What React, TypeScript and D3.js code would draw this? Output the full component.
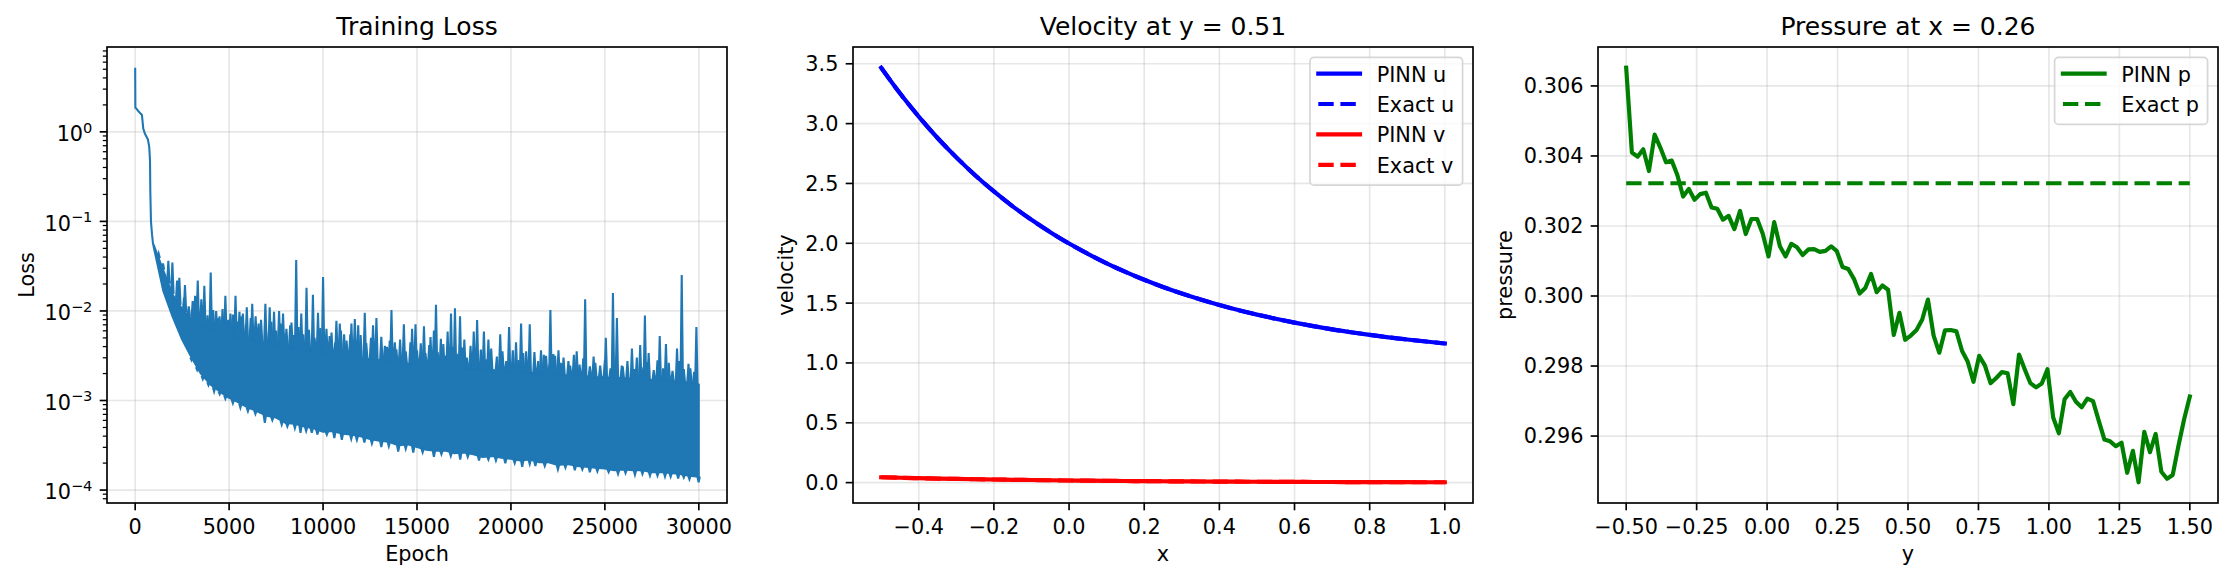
import React from 'react';
import * as d3 from 'd3';

const W = 2233;
const H = 581;
const FONT = 'DejaVu Sans, Verdana, sans-serif';
const FS = 20.8; // 10pt at 150 dpi
const TITLE_FS = 25;

// ---------- Training loss (values read on the log axis, stored as log10) ----------
const lossEarlyEpochs = [0, 10, 60, 150, 300, 360, 430, 520, 680, 750, 790, 805, 840, 895, 950];
const lossEarlyLog10 = [0.716, 0.27, 0.26, 0.236, 0.201, 0.188, 0.037, -0.022, -0.086, -0.174, -0.328, -0.658, -1.0, -1.143, -1.252];

// dense noisy band: lower edge and top of the solid body
const bandEpochs = [950, 1000, 1500, 2000, 2500, 3000, 3500, 4000, 4500, 5000,
  5500, 6000, 6500, 7000, 7500, 8000, 8500, 9000, 9500, 10000,
  10500, 11000, 11500, 12000, 12500, 13000, 13500, 14000, 14500, 15000,
  15500, 16000, 16500, 17000, 17500, 18000, 18500, 19000, 19500, 20000,
  20500, 21000, 21500, 22000, 22500, 23000, 23500, 24000, 24500, 25000,
  25500, 26000, 26500, 27000, 27500, 28000, 28500, 29000, 29500, 30000];
const bandLowLog10 = [-1.25, -1.3, -1.78, -2.07, -2.32, -2.52, -2.7, -2.82, -2.9, -2.97,
  -3.02, -3.08, -3.12, -3.17, -3.19, -3.25, -3.26, -3.29, -3.31, -3.35,
  -3.34, -3.37, -3.38, -3.4, -3.43, -3.45, -3.46, -3.5, -3.49, -3.52,
  -3.55, -3.56, -3.56, -3.59, -3.58, -3.6, -3.63, -3.62, -3.64, -3.65,
  -3.67, -3.66, -3.69, -3.69, -3.72, -3.71, -3.73, -3.74, -3.75, -3.76,
  -3.78, -3.77, -3.78, -3.78, -3.8, -3.8, -3.81, -3.82, -3.84, -3.85];
const bandHighLog10 = [-1.25, -1.27, -1.55, -1.82, -1.98, -2.09, -2.16, -2.2, -2.23, -2.27,
  -2.29, -2.32, -2.34, -2.36, -2.38, -2.4, -2.42, -2.44, -2.45, -2.47,
  -2.49, -2.5, -2.51, -2.53, -2.54, -2.55, -2.56, -2.58, -2.59, -2.6,
  -2.6, -2.61, -2.62, -2.63, -2.64, -2.64, -2.65, -2.66, -2.67, -2.68,
  -2.68, -2.69, -2.7, -2.7, -2.71, -2.72, -2.72, -2.73, -2.74, -2.74,
  -2.75, -2.75, -2.76, -2.76, -2.77, -2.78, -2.78, -2.79, -2.8, -2.82];

// tall spikes
const spikeEpochs = [1250, 1480, 1765, 1980, 2230, 2350, 2650, 3060, 3190, 3330, 3520, 3680, 4020, 4310, 4490,
  4800, 5070, 5340, 5550, 5730, 5940, 6230, 6410, 6570, 6930, 7160, 7390, 7660, 7870, 8050, 8320, 8570, 8840,
  9120, 9460, 9730, 10000, 10180, 10350, 10710, 10890, 11120, 11510, 11690, 11870, 12220, 12660, 12840, 13290,
  13640, 13820, 14300, 14740, 14920, 15370, 15720, 15900, 16010, 16270, 16630, 16810, 17020, 17290, 17520,
  18020, 18200, 18560, 18800, 19430, 19900, 20270, 20540, 20810, 21000, 21600, 21870, 22100, 22260, 22530,
  23060, 23500, 23950, 24490, 25050, 25430, 25640, 25900, 26440, 26880, 27130, 27330, 27920, 28250, 28840,
  29090, 29550, 29870];
const spikeLog10 = [-1.36, -1.47, -1.44, -1.46, -1.66, -1.63, -1.71, -1.89, -1.83, -1.66, -1.87, -1.72, -1.57,
  -2.0, -2.06, -1.83, -2.03, -1.83, -2.01, -2.03, -1.96, -1.92, -2.06, -2.14, -1.92, -1.96, -2.01, -2.0, -2.03,
  -2.2, -2.13, -1.43, -2.03, -1.74, -1.82, -2.02, -1.62, -2.2, -2.28, -2.11, -2.14, -2.26, -2.14, -2.09, -2.16,
  -2.02, -2.16, -2.08, -2.39, -1.99, -2.35, -2.15, -2.2, -2.15, -2.17, -2.29, -2.22, -1.93, -2.31, -2.23, -2.03,
  -1.97, -2.06, -2.32, -2.23, -2.1, -2.23, -2.32, -2.26, -2.18, -2.35, -2.14, -2.45, -2.15, -2.44, -2.5, -1.99,
  -2.48, -2.44, -2.56, -2.45, -1.87, -2.58, -2.3, -1.8, -2.08, -2.61, -2.42, -2.38, -2.05, -2.47, -2.28, -2.37,
  -2.42, -1.6, -2.64, -2.18];

// short spikes that make the ragged top of the band
const minorSpikeEpochs = [2600, 2850, 3100, 3400, 3650, 3850, 4150, 4400, 4650, 4950, 5200, 5450, 5650, 5900,
  6150, 6400, 6700, 6950, 7250, 7500, 7750, 8000, 8250, 8450, 8700, 8950, 9250, 9550, 9850, 10100, 10450,
  10650, 10950, 11250, 11450, 11750, 12000, 12300, 12550, 12800, 13100, 13400, 13550, 13900, 14100, 14400,
  14650, 15000, 15200, 15450, 15650, 16100, 16400, 16550, 16900, 17150, 17400, 17650, 17850, 18100, 18400,
  18700, 18950, 19250, 19550, 19750, 20100, 20400, 20650, 20950, 21250, 21450, 21750, 22050, 22350, 22650,
  22800, 23150, 23350, 23650, 23850, 24200, 24400, 24750, 25000, 25300, 25600, 25950, 26200, 26550, 26700,
  27050, 27250, 27600, 27800, 28100, 28400, 28600, 28950, 29200, 29450, 29750];
const minorSpikeLog10 = [-1.85, -1.95, -1.92, -2.02, -1.97, -2.05, -1.99, -2.08, -1.98, -2.1, -2.04, -2.12,
  -2.06, -2.15, -2.08, -2.18, -2.1, -2.2, -2.12, -2.22, -2.14, -2.25, -2.16, -2.27, -2.18, -2.26, -2.21,
  -2.3, -2.19, -2.31, -2.24, -2.35, -2.22, -2.33, -2.26, -2.38, -2.27, -2.36, -2.3, -2.41, -2.29, -2.4,
  -2.33, -2.43, -2.32, -2.45, -2.35, -2.44, -2.36, -2.47, -2.38, -2.46, -2.37, -2.5, -2.4, -2.48, -2.41,
  -2.52, -2.39, -2.5, -2.43, -2.54, -2.42, -2.51, -2.45, -2.56, -2.44, -2.55, -2.47, -2.58, -2.46, -2.56,
  -2.49, -2.6, -2.5, -2.58, -2.52, -2.61, -2.49, -2.6, -2.53, -2.62, -2.51, -2.61, -2.55, -2.64, -2.53,
  -2.62, -2.56, -2.65, -2.52, -2.63, -2.57, -2.66, -2.55, -2.64, -2.58, -2.67, -2.56, -2.65, -2.59, -2.68];

// downward dips below the band
const dipEpochs = [3000, 3300, 3600, 3900, 4200, 4500, 4800, 5200, 5600, 6000, 6400, 6900, 7300, 7800, 8100,
  8500, 8800, 9100, 9400, 9700, 10200, 10600, 11000, 11500, 11800, 12200, 12600, 13100, 13500, 14000, 14400,
  14800, 15300, 15900, 16300, 16800, 17300, 17700, 18300, 18800, 19200, 19700, 20200, 20600, 21000, 21300,
  21800, 22500, 22900, 23400, 23800, 24200, 24600, 25200, 25700, 26100, 26600, 27000, 27400, 27800, 28200,
  28500, 28900, 29200, 29500, 29990];
const dipLog10 = [-2.55, -2.66, -2.76, -2.83, -2.9, -2.93, -2.98, -3.03, -3.08, -3.12, -3.15, -3.25, -3.22,
  -3.27, -3.29, -3.31, -3.36, -3.34, -3.36, -3.38, -3.38, -3.42, -3.44, -3.43, -3.44, -3.47, -3.48, -3.52,
  -3.51, -3.57, -3.54, -3.58, -3.58, -3.63, -3.6, -3.62, -3.66, -3.63, -3.67, -3.66, -3.67, -3.7, -3.7, -3.74,
  -3.71, -3.73, -3.73, -3.77, -3.75, -3.78, -3.77, -3.8, -3.79, -3.8, -3.82, -3.81, -3.83, -3.82, -3.84, -3.84,
  -3.85, -3.85, -3.87, -3.86, -3.88, -3.913];

const lossXTicks = [0, 5000, 10000, 15000, 20000, 25000, 30000];
const lossYTicks = [1e-4, 1e-3, 1e-2, 1e-1, 1];
const lossYExponents = ['\u22124', '\u22123', '\u22122', '\u22121', '0'];

// ---------- Velocity ----------
const velX = [-0.5, -0.45, -0.4, -0.35, -0.3, -0.25, -0.2, -0.15, -0.1, -0.05, 0.0, 0.05, 0.1, 0.15, 0.2, 0.25,
  0.3, 0.35, 0.4, 0.45, 0.5, 0.55, 0.6, 0.65, 0.7, 0.75, 0.8, 0.85, 0.9, 0.95, 1.0];
const uPinn = [3.467, 3.253, 3.059, 2.88, 2.718, 2.569, 2.433, 2.309, 2.196, 2.093, 1.998, 1.912, 1.833, 1.761,
  1.695, 1.635, 1.58, 1.53, 1.484, 1.442, 1.404, 1.369, 1.337, 1.308, 1.281, 1.257, 1.235, 1.214, 1.196, 1.179, 1.163];
const uExact = [3.467, 3.253, 3.059, 2.88, 2.718, 2.569, 2.433, 2.309, 2.196, 2.093, 1.998, 1.912, 1.833, 1.761,
  1.695, 1.635, 1.58, 1.53, 1.484, 1.442, 1.404, 1.369, 1.337, 1.308, 1.281, 1.257, 1.235, 1.214, 1.196, 1.179, 1.163];
const vPinn = [0.0447, 0.0409, 0.0373, 0.0341, 0.0311, 0.0285, 0.026, 0.0237, 0.0217, 0.0198, 0.0181, 0.0165,
  0.0151, 0.0138, 0.0126, 0.0115, 0.0105, 0.0096, 0.0088, 0.008, 0.0073, 0.0067, 0.0061, 0.0056, 0.0051, 0.0047,
  0.0043, 0.0039, 0.0036, 0.0032, 0.003];
const vExact = [0.0447, 0.0409, 0.0373, 0.0341, 0.0311, 0.0285, 0.026, 0.0237, 0.0217, 0.0198, 0.0181, 0.0165,
  0.0151, 0.0138, 0.0126, 0.0115, 0.0105, 0.0096, 0.0088, 0.008, 0.0073, 0.0067, 0.0061, 0.0056, 0.0051, 0.0047,
  0.0043, 0.0039, 0.0036, 0.0032, 0.003];
const velXTicks = [-0.4, -0.2, 0.0, 0.2, 0.4, 0.6, 0.8, 1.0];
const velYTicks = [0, 0.5, 1.0, 1.5, 2.0, 2.5, 3.0, 3.5];

// ---------- Pressure ----------
const pressurePinn = [
  0.30652, 0.3041, 0.30398, 0.30419, 0.30357, 0.30461, 0.30424, 0.30382, 0.30387, 0.30345,
  0.30284, 0.30306, 0.30275, 0.30291, 0.30295, 0.30253, 0.30249, 0.30218, 0.30229, 0.30191,
  0.30243, 0.30177, 0.3022, 0.3022, 0.30177, 0.30113, 0.30211, 0.30142, 0.30113, 0.30149,
  0.30139, 0.30117, 0.30133, 0.30134, 0.30126, 0.30129, 0.30142, 0.30128, 0.30083, 0.30077,
  0.30049, 0.30007, 0.30023, 0.30063, 0.30011, 0.3003, 0.30018, 0.29889, 0.29952, 0.29875,
  0.29887, 0.29903, 0.29933, 0.2999, 0.29887, 0.29838, 0.29902, 0.29903, 0.29899, 0.29843,
  0.29812, 0.29755, 0.29829, 0.29802, 0.29751, 0.29766, 0.29783, 0.29779, 0.29691, 0.29833,
  0.29791, 0.29751, 0.29739, 0.2975, 0.29791, 0.29653, 0.29608, 0.29705, 0.29726, 0.29698,
  0.29682, 0.29707, 0.297, 0.29644, 0.2959, 0.29585, 0.29571, 0.29581, 0.29495, 0.29558,
  0.29468, 0.29612, 0.29554, 0.29606, 0.29498, 0.29478, 0.29489, 0.29572, 0.29648, 0.29713,
];
const pressureExact = 0.30322;
const presXRange = [-0.5, 1.5];
const presXTicks = [-0.5, -0.25, 0, 0.25, 0.5, 0.75, 1.0, 1.25, 1.5];
const presYTicks = [0.296, 0.298, 0.3, 0.302, 0.304, 0.306];

// ---------- layout ----------
const TOP = 47;
const AH = 456;
const AW = 620;
const LEFTS = [107, 853, 1598];
const TICK = 7.3;
const LW = 1.67;
const GRID = '#b0b0b0';

const pad5 = (lo: number, hi: number) => {
  const m = (hi - lo) * 0.05;
  return [lo - m, hi + m];
};

type AxesProps = {
  left: number;
  title: string;
  xLabel: string;
  yLabel: string;
  yLabelX: number;
  x: any;
  y: any;
  xTicks: number[];
  xFmt: (v: number) => string;
  yTicks: number[];
  yLabelNode: (v: number, i: number, yy: number) => React.ReactNode;
  yMinor?: number[];
  id: string;
  children?: React.ReactNode;
  legend?: React.ReactNode;
};

function Axes(p: AxesProps) {
  const right = p.left + AW;
  const bottom = TOP + AH;
  return (
    <g>
      <defs>
        <clipPath id={p.id}>
          <rect x={p.left} y={TOP} width={AW} height={AH} />
        </clipPath>
      </defs>
      <g stroke={GRID} strokeOpacity={0.3} strokeWidth={LW}>
        {p.xTicks.map((t) => (
          <line key={'gx' + t} x1={p.x(t)} x2={p.x(t)} y1={TOP} y2={bottom} />
        ))}
        {p.yTicks.map((t) => (
          <line key={'gy' + t} x1={p.left} x2={right} y1={p.y(t)} y2={p.y(t)} />
        ))}
      </g>
      <g clipPath={`url(#${p.id})`}>{p.children}</g>
      <rect x={p.left} y={TOP} width={AW} height={AH} fill="none" stroke="#000" strokeWidth={LW} />
      <g stroke="#000" strokeWidth={LW}>
        {p.xTicks.map((t) => (
          <line key={'tx' + t} x1={p.x(t)} x2={p.x(t)} y1={bottom} y2={bottom + TICK} />
        ))}
        {p.yTicks.map((t) => (
          <line key={'ty' + t} x1={p.left - TICK} x2={p.left} y1={p.y(t)} y2={p.y(t)} />
        ))}
      </g>
      {p.yMinor && (
        <g stroke="#000" strokeWidth={1.25}>
          {p.yMinor.map((t, i) => (
            <line key={'tm' + i} x1={p.left - 4.2} x2={p.left} y1={p.y(t)} y2={p.y(t)} />
          ))}
        </g>
      )}
      <g fontFamily={FONT} fontSize={FS} fill="#000">
        {p.xTicks.map((t) => (
          <text key={'lx' + t} x={p.x(t)} y={533.5} textAnchor="middle">
            {p.xFmt(t)}
          </text>
        ))}
        {p.yTicks.map((t, i) => (
          <React.Fragment key={'ly' + t}>{p.yLabelNode(t, i, p.y(t))}</React.Fragment>
        ))}
        <text x={p.left + AW / 2} y={561} textAnchor="middle">
          {p.xLabel}
        </text>
        <text transform={`translate(${p.yLabelX},${TOP + AH / 2}) rotate(-90)`} textAnchor="middle">
          {p.yLabel}
        </text>
        <text x={p.left + AW / 2} y={34.5} textAnchor="middle" fontSize={TITLE_FS}>
          {p.title}
        </text>
      </g>
      {p.legend}
    </g>
  );
}

type LegendItem = { label: string; color: string; dashed: boolean };

function Legend({ right, items, textW }: { right: number; items: LegendItem[]; textW: number }) {
  const pad = 8.3;
  const hl = 41.7;
  const htp = 16.7;
  const rowH = 20;
  const sp = 10.4;
  const w = pad * 2 + hl + htp + textW;
  const h = pad * 2 + items.length * rowH + (items.length - 1) * sp;
  const left = right - 10.4 - w;
  const top = TOP + 10.4;
  return (
    <g>
      <rect x={left} y={top} width={w} height={h} rx={4} fill="#fff" fillOpacity={0.8} stroke="#cccccc" strokeOpacity={0.8} strokeWidth={LW} />
      {items.map((it, i) => {
        const cy = top + 16.2 + i * (rowH + sp);
        return (
          <g key={it.label}>
            <line
              x1={left + pad}
              x2={left + pad + hl}
              y1={cy}
              y2={cy}
              stroke={it.color}
              strokeWidth={4.17}
              strokeDasharray={it.dashed ? '15.4 6.7' : undefined}
              strokeLinecap={it.dashed ? 'butt' : 'square'}
            />
            <text x={left + pad + hl + htp} y={cy + 8} fontFamily={FONT} fontSize={FS} fill="#000">
              {it.label}
            </text>
          </g>
        );
      })}
    </g>
  );
}

const plainY = (fmt: (v: number) => string, left: number) => (v: number, _i: number, yy: number) => (
  <text x={left - 14.6} y={yy + 7.4} textAnchor="end">
    {fmt(v)}
  </text>
);

function LossPanel() {
  const left = LEFTS[0];
  const allLogs = [...lossEarlyLog10, ...bandLowLog10, ...bandHighLog10, ...spikeLog10, ...minorSpikeLog10, ...dipLog10];
  const [l0, l1] = pad5(d3.min(allLogs) as number, d3.max(allLogs) as number);
  const y = d3.scaleLog().domain([10 ** l0, 10 ** l1]).range([TOP + AH, TOP]);
  const ly = (lg: number) => y(10 ** lg);
  const x = d3.scaleLinear().domain(pad5(0, 30000)).range([left, left + AW]);
  const minor = y.ticks().filter((t) => {
    const e = Math.log10(t);
    return Math.abs(e - Math.round(e)) > 1e-6;
  });
  const highAt = d3.scaleLinear().domain(bandEpochs).range(bandHighLog10);
  const lowAt = d3.scaleLinear().domain(bandEpochs).range(bandLowLog10);
  const color = '#1f77b4';

  const early = d3
    .line<number>()
    .x((d) => x(d))
    .y((_d, i) => ly(lossEarlyLog10[i]))(lossEarlyEpochs) as string;
  const band = d3
    .area<number>()
    .x((d) => x(d))
    .y0((_d, i) => ly(bandLowLog10[i]))
    .y1((_d, i) => ly(bandHighLog10[i]))(bandEpochs) as string;
  const spikePath = (eps: number[], vals: number[], baseAt: (e: number) => number) =>
    eps
      .map((e, i) => {
        const xx = x(e);
        const b = ly(baseAt(e));
        return `M${xx - 1.2},${b}L${xx},${ly(vals[i])}L${xx + 1.2},${b}`;
      })
      .join('');

  const yLabelNode = (_v: number, i: number, yy: number) => (
    <text x={left - 14.6} y={yy + 9.2} textAnchor="end">
      10
      <tspan fontSize={14.6} dy={-8.5}>
        {lossYExponents[i]}
      </tspan>
    </text>
  );

  return (
    <Axes
      id="clip-loss"
      left={left}
      title="Training Loss"
      xLabel="Epoch"
      yLabel="Loss"
      yLabelX={33.5}
      x={x}
      y={y}
      xTicks={lossXTicks}
      xFmt={d3.format('d')}
      yTicks={lossYTicks}
      yLabelNode={yLabelNode}
      yMinor={minor}
    >
      <path d={band} fill={color} stroke={color} strokeWidth={2} strokeLinejoin="round" />
      <path d={spikePath(minorSpikeEpochs, minorSpikeLog10, highAt)} fill={color} stroke={color} strokeWidth={2.08} />
      <path d={spikePath(spikeEpochs, spikeLog10, highAt)} fill={color} stroke={color} strokeWidth={2.08} />
      <path d={spikePath(dipEpochs, dipLog10, lowAt)} fill={color} stroke={color} strokeWidth={2.08} />
      <path d={early} fill="none" stroke={color} strokeWidth={2.08} strokeLinejoin="round" />
    </Axes>
  );
}

function VelocityPanel() {
  const left = LEFTS[1];
  const all = [...uPinn, ...uExact, ...vPinn, ...vExact];
  const x = d3.scaleLinear().domain(pad5(-0.5, 1.0)).range([left, left + AW]);
  const y = d3
    .scaleLinear()
    .domain(pad5(d3.min(all) as number, d3.max(all) as number))
    .range([TOP + AH, TOP]);
  const mk = (vals: number[]) =>
    d3
      .line<number>()
      .x((d) => x(d))
      .y((_d, i) => y(vals[i]))
      .curve(d3.curveMonotoneX)(velX) as string;
  const fmt = d3.format('.1f');
  return (
    <Axes
      id="clip-vel"
      left={left}
      title="Velocity at y = 0.51"
      xLabel="x"
      yLabel="velocity"
      yLabelX={793}
      x={x}
      y={y}
      xTicks={velXTicks}
      xFmt={fmt}
      yTicks={velYTicks}
      yLabelNode={plainY(fmt, left)}
      legend={
        <Legend
          right={left + AW}
          textW={77.6}
          items={[
            { label: 'PINN u', color: '#0000ff', dashed: false },
            { label: 'Exact u', color: '#0000ff', dashed: true },
            { label: 'PINN v', color: '#ff0000', dashed: false },
            { label: 'Exact v', color: '#ff0000', dashed: true },
          ]}
        />
      }
    >
      <path d={mk(uPinn)} fill="none" stroke="#0000ff" strokeWidth={4.17} strokeLinecap="square" strokeLinejoin="round" />
      <path d={mk(uExact)} fill="none" stroke="#0000ff" strokeWidth={4.17} strokeDasharray="15.4 6.7" />
      <path d={mk(vPinn)} fill="none" stroke="#ff0000" strokeWidth={4.17} strokeLinecap="square" strokeLinejoin="round" />
      <path d={mk(vExact)} fill="none" stroke="#ff0000" strokeWidth={4.17} strokeDasharray="15.4 6.7" />
    </Axes>
  );
}

function PressurePanel() {
  const left = LEFTS[2];
  const n = pressurePinn.length;
  const xs = d3.range(n).map((i) => presXRange[0] + (i * (presXRange[1] - presXRange[0])) / (n - 1));
  const all = [...pressurePinn, pressureExact];
  const x = d3.scaleLinear().domain(pad5(presXRange[0], presXRange[1])).range([left, left + AW]);
  const y = d3
    .scaleLinear()
    .domain(pad5(d3.min(all) as number, d3.max(all) as number))
    .range([TOP + AH, TOP]);
  const pinn = d3
    .line<number>()
    .x((d) => x(d))
    .y((_d, i) => y(pressurePinn[i]))(xs) as string;
  const exact = d3
    .line<number>()
    .x((d) => x(d))
    .y(() => y(pressureExact))(presXRange) as string;
  return (
    <Axes
      id="clip-pres"
      left={left}
      title="Pressure at x = 0.26"
      xLabel="y"
      yLabel="pressure"
      yLabelX={1512}
      x={x}
      y={y}
      xTicks={presXTicks}
      xFmt={d3.format('.2f')}
      yTicks={presYTicks}
      yLabelNode={plainY(d3.format('.3f'), left)}
      legend={
        <Legend
          right={left + AW}
          textW={78}
          items={[
            { label: 'PINN p', color: '#008000', dashed: false },
            { label: 'Exact p', color: '#008000', dashed: true },
          ]}
        />
      }
    >
      <path d={pinn} fill="none" stroke="#008000" strokeWidth={4.17} strokeLinecap="square" strokeLinejoin="round" />
      <path d={exact} fill="none" stroke="#008000" strokeWidth={4.17} strokeDasharray="15.4 6.7" />
    </Axes>
  );
}

export default function App() {
  return (
    <svg
      width={W}
      height={H}
      viewBox={`0 0 ${W} ${H}`}
      style={{ position: 'absolute', left: 0, top: 0, background: '#fff' }}
    >
      <rect x={0} y={0} width={W} height={H} fill="#fff" />
      <LossPanel />
      <VelocityPanel />
      <PressurePanel />
    </svg>
  );
}
